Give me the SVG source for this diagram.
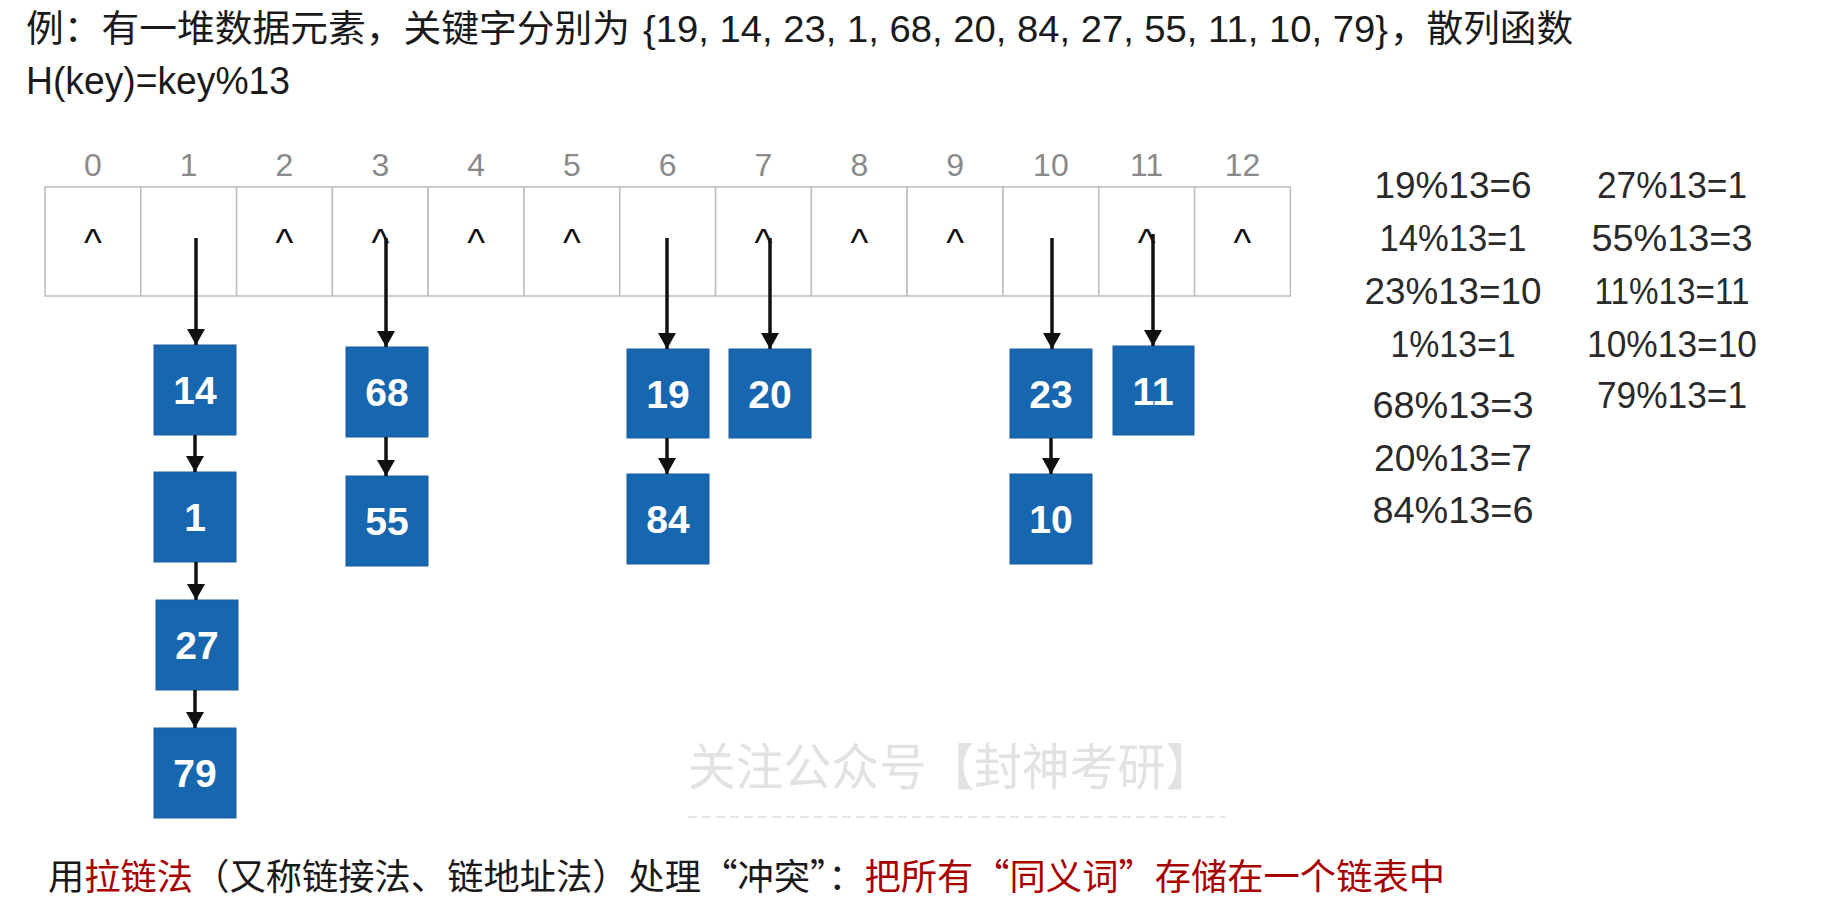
<svg xmlns="http://www.w3.org/2000/svg" width="1837" height="917" viewBox="0 0 1837 917">
<defs>
<style>
.t{font-family:"Liberation Sans","Noto Sans CJK SC",sans-serif;fill:#1a1a1a}
.cj{font-family:"Noto Sans CJK SC","Liberation Sans",sans-serif}
.idx{font-family:"Liberation Sans",sans-serif;font-size:32px;fill:#8a8a8a;text-anchor:middle}
.car{font-family:"Liberation Sans",sans-serif;font-size:38px;fill:#111;text-anchor:middle}
.cell{fill:#fff;stroke:#bdbdbd;stroke-width:1.5}
.box{fill:#1766b0;stroke:#1a5d9e;stroke-width:1}
.lbl{font-family:"Liberation Sans",sans-serif;font-weight:bold;font-size:39px;fill:#fff;text-anchor:middle}
.eq{font-family:"Liberation Sans",sans-serif;font-size:36px;fill:#2a2a2a;text-anchor:middle}
.ar{stroke:#111;stroke-width:3.5;fill:none;marker-end:url(#ah)}
.red{fill:#a80000}
</style>
<marker id="ah" viewBox="0 0 16 18" refX="16" refY="9" markerWidth="16" markerHeight="18" markerUnits="userSpaceOnUse" orient="auto">
<path d="M0,0 L16,9 L0,18 z" fill="#111"/>
</marker>
</defs>
<rect width="1837" height="917" fill="#fff"/>

<g id="title">
<text class="t" font-size="37" y="42"><tspan x="26" textLength="604" lengthAdjust="spacingAndGlyphs">例：有一堆数据元素，关键字分别为</tspan><tspan x="643" textLength="745" lengthAdjust="spacingAndGlyphs">{19, 14, 23, 1, 68, 20, 84, 27, 55, 11, 10, 79}</tspan><tspan x="1390" textLength="183" lengthAdjust="spacingAndGlyphs">，散列函数</tspan></text>
<text class="t" font-size="38" x="26" y="94" textLength="264" lengthAdjust="spacingAndGlyphs">H(key)=key%13</text>
</g>

<g id="watermark">
<text class="cj" font-size="50" x="688" y="785" fill="#e2e2e2" textLength="525" lengthAdjust="spacingAndGlyphs">关注公众号【封神考研】</text>
<line x1="688" y1="817" x2="1225" y2="817" stroke="#e6e6e6" stroke-width="2" stroke-dasharray="9,5"/>
</g>

<g id="table">
<rect class="cell" x="45" y="187" width="95.8" height="109"/>
<rect class="cell" x="140.8" y="187" width="95.8" height="109"/>
<rect class="cell" x="236.6" y="187" width="95.8" height="109"/>
<rect class="cell" x="332.4" y="187" width="95.8" height="109"/>
<rect class="cell" x="428.2" y="187" width="95.8" height="109"/>
<rect class="cell" x="524" y="187" width="95.8" height="109"/>
<rect class="cell" x="619.8" y="187" width="95.8" height="109"/>
<rect class="cell" x="715.6" y="187" width="95.8" height="109"/>
<rect class="cell" x="811.4" y="187" width="95.8" height="109"/>
<rect class="cell" x="907.2" y="187" width="95.8" height="109"/>
<rect class="cell" x="1003" y="187" width="95.8" height="109"/>
<rect class="cell" x="1098.8" y="187" width="95.8" height="109"/>
<rect class="cell" x="1194.6" y="187" width="95.8" height="109"/>
<text class="idx" x="92.9" y="176">0</text>
<text class="idx" x="188.7" y="176">1</text>
<text class="idx" x="284.5" y="176">2</text>
<text class="idx" x="380.3" y="176">3</text>
<text class="idx" x="476.1" y="176">4</text>
<text class="idx" x="571.9" y="176">5</text>
<text class="idx" x="667.7" y="176">6</text>
<text class="idx" x="763.5" y="176">7</text>
<text class="idx" x="859.3" y="176">8</text>
<text class="idx" x="955.1" y="176">9</text>
<text class="idx" x="1050.9" y="176">10</text>
<text class="idx" x="1146.7" y="176">11</text>
<text class="idx" x="1242.5" y="176">12</text>
<text class="car" x="92.9" y="256">^</text>
<text class="car" x="284.5" y="256">^</text>
<text class="car" x="380.3" y="256">^</text>
<text class="car" x="476.1" y="256">^</text>
<text class="car" x="571.9" y="256">^</text>
<text class="car" x="763.5" y="256">^</text>
<text class="car" x="859.3" y="256">^</text>
<text class="car" x="955.1" y="256">^</text>
<text class="car" x="1146.7" y="256">^</text>
<text class="car" x="1242.5" y="256">^</text>
</g>

<g id="n14"><rect class="box" x="154" y="345" width="82" height="90"/><text class="lbl" x="195" y="404">14</text></g>
<g id="n1"><rect class="box" x="154" y="472" width="82" height="90"/><text class="lbl" x="195" y="531">1</text></g>
<g id="n27"><rect class="box" x="156" y="600" width="82" height="90"/><text class="lbl" x="197" y="659">27</text></g>
<g id="n79"><rect class="box" x="154" y="728" width="82" height="90"/><text class="lbl" x="195" y="787">79</text></g>
<g id="n68"><rect class="box" x="346" y="347" width="82" height="90"/><text class="lbl" x="387" y="406">68</text></g>
<g id="n55"><rect class="box" x="346" y="476" width="82" height="90"/><text class="lbl" x="387" y="535">55</text></g>
<g id="n19"><rect class="box" x="627" y="349" width="82" height="89"/><text class="lbl" x="668" y="408">19</text></g>
<g id="n84"><rect class="box" x="627" y="474" width="82" height="90"/><text class="lbl" x="668" y="533">84</text></g>
<g id="n20"><rect class="box" x="729" y="349" width="82" height="89"/><text class="lbl" x="770" y="408">20</text></g>
<g id="n23"><rect class="box" x="1010" y="349" width="82" height="89"/><text class="lbl" x="1051" y="408">23</text></g>
<g id="n10"><rect class="box" x="1010" y="474" width="82" height="90"/><text class="lbl" x="1051" y="533">10</text></g>
<g id="n11"><rect class="box" x="1113" y="346" width="81" height="89"/><text class="lbl" x="1153" y="405">11</text></g>

<g id="connectors">
<line class="ar" x1="196" y1="238" x2="196" y2="345"/>
<line class="ar" x1="386" y1="238" x2="386" y2="347"/>
<line class="ar" x1="667" y1="238" x2="667" y2="349"/>
<line class="ar" x1="770" y1="238" x2="770" y2="349"/>
<line class="ar" x1="1052" y1="238" x2="1052" y2="349"/>
<line class="ar" x1="1153" y1="234" x2="1153" y2="346"/>
<line class="ar" x1="195" y1="435" x2="195" y2="472"/>
<line class="ar" x1="196" y1="562" x2="196" y2="600"/>
<line class="ar" x1="195" y1="690" x2="195" y2="728"/>
<line class="ar" x1="386" y1="437" x2="386" y2="476"/>
<line class="ar" x1="667" y1="438" x2="667" y2="474"/>
<line class="ar" x1="1051" y1="438" x2="1051" y2="474"/>
</g>

<g id="formulas">
<text class="eq" x="1453" y="198" textLength="157" lengthAdjust="spacingAndGlyphs">19%13=6</text>
<text class="eq" x="1453" y="251" textLength="147" lengthAdjust="spacingAndGlyphs">14%13=1</text>
<text class="eq" x="1453" y="304" textLength="177" lengthAdjust="spacingAndGlyphs">23%13=10</text>
<text class="eq" x="1453" y="357" textLength="125" lengthAdjust="spacingAndGlyphs">1%13=1</text>
<text class="eq" x="1453" y="418" textLength="161" lengthAdjust="spacingAndGlyphs">68%13=3</text>
<text class="eq" x="1453" y="471" textLength="158" lengthAdjust="spacingAndGlyphs">20%13=7</text>
<text class="eq" x="1453" y="523" textLength="161" lengthAdjust="spacingAndGlyphs">84%13=6</text>
<text class="eq" x="1672" y="198" textLength="150" lengthAdjust="spacingAndGlyphs">27%13=1</text>
<text class="eq" x="1672" y="251" textLength="161" lengthAdjust="spacingAndGlyphs">55%13=3</text>
<text class="eq" x="1672" y="304" textLength="155" lengthAdjust="spacingAndGlyphs">11%13=11</text>
<text class="eq" x="1672" y="357" textLength="170" lengthAdjust="spacingAndGlyphs">10%13=10</text>
<text class="eq" x="1672" y="408" textLength="150" lengthAdjust="spacingAndGlyphs">79%13=1</text>
</g>

<g id="caption">
<text class="cj" font-size="36" x="48" y="890" fill="#1a1a1a" textLength="1397" lengthAdjust="spacingAndGlyphs">用<tspan class="red">拉链法</tspan>（又称链接法、链地址法）处理“冲突”：<tspan class="red">把所有“同义词”存储在一个链表中</tspan></text>
</g>
</svg>
